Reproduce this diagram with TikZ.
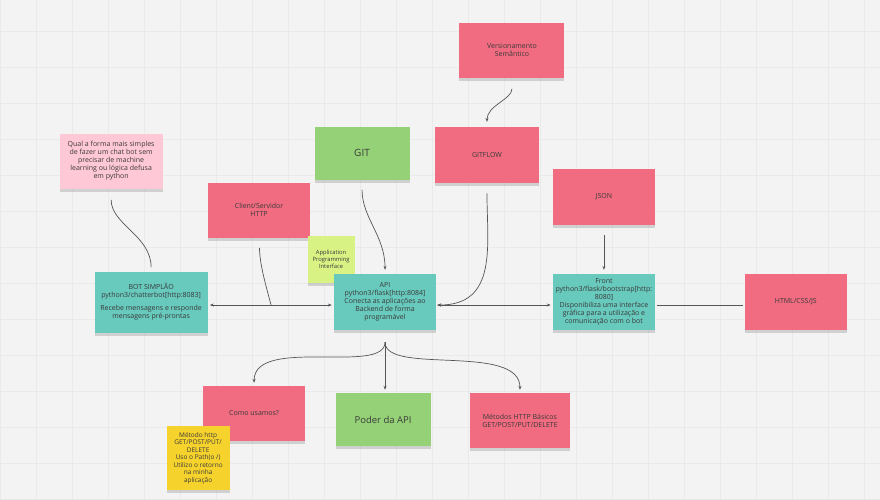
\documentclass[tikz,border=0pt]{standalone}
\usepackage{fontspec}
\setmainfont{Open Sans}
\usetikzlibrary{arrows.meta,shadows}

\definecolor{boardbg}{HTML}{F3F3F3}
\definecolor{boardgrid}{HTML}{EAEAEA}
\definecolor{stickyred}{HTML}{F16C80}
\definecolor{stickypink}{HTML}{FFC8D6}
\definecolor{stickyteal}{HTML}{68C9BD}
\definecolor{stickygreen}{HTML}{95D277}
\definecolor{stickylime}{HTML}{D8F284}
\definecolor{stickyyellow}{HTML}{F6D22C}
\definecolor{inktext}{HTML}{3A3A3A}
\definecolor{linegrey}{HTML}{555555}

\begin{document}
\begin{tikzpicture}[x=1pt, y=1pt, align=center, text=inktext, font=\fontsize{7}{8}\selectfont]

    % Styles
    \tikzstyle{sticky} = [rectangle, inner sep=2pt, drop shadow={shadow xshift=0pt, shadow yshift=-3pt, opacity=0.3}]
    \tikzstyle{redsticky} = [sticky, fill=stickyred, minimum width=102pt, minimum height=56pt]
    \tikzstyle{tealsticky} = [sticky, fill=stickyteal, minimum width=102pt, minimum height=56pt]
    \tikzstyle{greensticky} = [sticky, fill=stickygreen, minimum width=95pt, minimum height=53pt]
    \tikzstyle{arrow} = [-{Stealth[length=4pt, width=3pt]}, draw=linegrey, line width=0.7pt]
    \tikzstyle{twoway} = [{Stealth[length=4pt, width=3pt]}-{Stealth[length=4pt, width=3pt]}, draw=linegrey, line width=0.7pt]
    \tikzstyle{plain} = [-, draw=linegrey, line width=0.7pt]

    % Board
    \fill[boardbg] (0,0) rectangle (880,499);
    \draw[boardgrid, step=36pt] (0,0) grid (880,499);
    \useasboundingbox (0,0) rectangle (880,499);

    % Top row
    \node[redsticky, minimum width=105pt, minimum height=55pt] (semver) at (512,449) {Versionamento\\Semântico};
    \node[greensticky, font=\fontsize{10}{12}\selectfont] (git) at (362,346) {GIT};
    \node[redsticky, minimum width=105pt] (gitflow) at (487,344) {GITFLOW};
    \node[sticky, fill=stickypink, minimum width=103pt, minimum height=55pt] (question) at (111,338) {Qual a forma mais simples\\de fazer um chat bot sem\\precisar de machine\\learning ou lógica defusa\\em python};
    \node[redsticky, minimum height=55pt] (client) at (259,289) {Client/Servidor\\HTTP};
    \node[redsticky] (json) at (604,302) {JSON};
    \node[sticky, fill=stickylime, minimum width=47pt, minimum height=47pt, inner sep=1pt, font=\fontsize{5.8}{6.8}\selectfont] (apiname) at (331,240) {Application\\Programming\\Interface};

    % Middle row
    \node[tealsticky, minimum width=113pt, minimum height=61pt] (bot) at (151,197) {BOT SIMPLÃO\\python3/chatterbot[http:8083]\\[5pt]Recebe mensagens e responde\\mensagens pré-prontas};
    \node[tealsticky] (api) at (385,197) {API\\python3/flask[http:8084]\\Conecta as aplicações ao\\Backend de forma\\programável};
    \node[tealsticky] (front) at (604,197) {Front\\python3/flask/bootstrap[http:\\8080]\\Disponibiliza uma interface\\gráfica para a utilização e\\comunicação com o bot};
    \node[redsticky] (html) at (796,197) {HTML/CSS/JS};

    % Bottom row
    \node[redsticky, minimum height=55pt] (como) at (254,85.5) {Como usamos?};
    \node[greensticky, font=\fontsize{9.5}{11}\selectfont] (poder) at (383,79.5) {Poder da API};
    \node[redsticky, minimum width=100pt, minimum height=55pt] (methods) at (520,78.5) {Métodos HTTP Básicos\\GET/POST/PUT/DELETE};
    \node[sticky, fill=stickyyellow, minimum width=63pt, minimum height=64pt, inner sep=1pt, font=\fontsize{6.5}{7.5}\selectfont] (howto) at (198,41) {Método http\\GET/POST/PUT/\\DELETE\\Uso o Path(o /)\\Utilizo o retorno\\na minha\\aplicação};

    % Arrows
    \draw[plain, shorten <=11pt, shorten >=4pt] (question.south) to[out=-90, in=90] (bot.north);
    \draw[arrow, shorten <=11pt, shorten >=5pt] (semver.south) to[out=-90, in=90] (gitflow.north);
    \draw[arrow, shorten <=10pt, shorten >=4pt] (git.south) to[out=-90, in=90] (api.north);
    \draw[arrow, shorten <=10pt, shorten >=1pt] (gitflow.south) to[out=-90, in=0, looseness=1.2] ([yshift=-3pt]api.east);

    \coordinate (clientlink) at (271,194);
    \draw[plain, shorten <=10pt] (client.south) to[out=-88, in=105] (clientlink);

    \draw[twoway, shorten <=2pt, shorten >=2pt] ([yshift=-3pt]bot.east) -- ([yshift=-3pt]api.west);
    \draw[twoway, shorten <=1pt, shorten >=2pt] ([yshift=-3pt]api.east) -- ([yshift=-3pt]front.west);
    \draw[arrow, shorten <=10pt, shorten >=4pt] (json) -- (front);
    \draw[plain, shorten <=2pt, shorten >=2pt] ([yshift=-3pt]front.east) -- ([yshift=-3pt]html.west);

    \draw[arrow, shorten <=12pt, shorten >=3pt] (api.south) .. controls +(0,-45) and +(0,50) .. (como.north);
    \draw[arrow, shorten <=12pt, shorten >=3pt] (api.south) -- (api.south |- poder.north);
    \draw[arrow, shorten <=12pt, shorten >=3pt] (api.south) .. controls +(0,-45) and +(0,50) .. (methods.north);

\end{tikzpicture}
\end{document}
